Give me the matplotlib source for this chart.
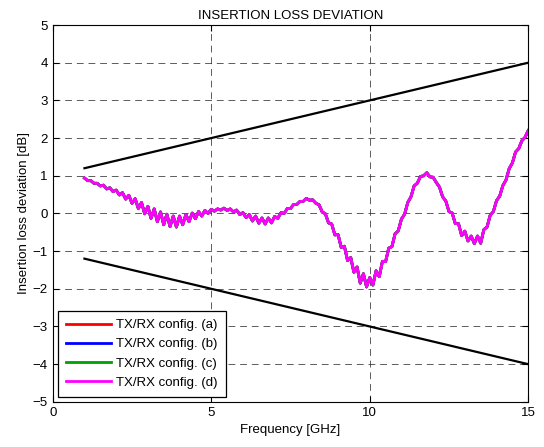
import matplotlib
matplotlib.use("Agg")
import matplotlib.pyplot as plt

plt.rcParams['font.family'] = ['Liberation Sans', 'DejaVu Sans']

# limit lines (upper / lower mask)
limit_freq = [1.0, 15.0]
limit_upper = [1.2, 4.0]
limit_lower = [-1.2, -4.0]

freq = [1.0, 1.1, 1.2, 1.3, 1.4, 1.5, 1.6, 1.7, 1.8, 1.9,
        2.0, 2.1, 2.2, 2.3, 2.4, 2.5, 2.6, 2.7, 2.8, 2.9,
        3.0, 3.1, 3.2, 3.3, 3.4, 3.5, 3.6, 3.7, 3.8, 3.9,
        4.0, 4.1, 4.2, 4.3, 4.4, 4.5, 4.6, 4.7, 4.8, 4.9,
        5.0, 5.1, 5.2, 5.3, 5.4, 5.5, 5.6, 5.7, 5.8, 5.9,
        6.0, 6.1, 6.2, 6.3, 6.4, 6.5, 6.6, 6.7, 6.8, 6.9,
        7.0, 7.1, 7.2, 7.3, 7.4, 7.5, 7.6, 7.7, 7.8, 7.9,
        8.0, 8.1, 8.2, 8.3, 8.4, 8.5, 8.6, 8.7, 8.8, 8.9,
        9.0, 9.1, 9.2, 9.3, 9.4, 9.5, 9.6, 9.7, 9.8, 9.9,
        10.0, 10.1, 10.2, 10.3, 10.4, 10.5, 10.6, 10.7, 10.8, 10.9,
        11.0, 11.1, 11.2, 11.3, 11.4, 11.5, 11.6, 11.7, 11.8, 11.9,
        12.0, 12.1, 12.2, 12.3, 12.4, 12.5, 12.6, 12.7, 12.8, 12.9,
        13.0, 13.1, 13.2, 13.3, 13.4, 13.5, 13.6, 13.7, 13.8, 13.9,
        14.0, 14.1, 14.2, 14.3, 14.4, 14.5, 14.6, 14.7, 14.8, 14.9,
        15.0]
ild = [0.94, 0.87, 0.87, 0.80, 0.80, 0.73, 0.75, 0.65, 0.68, 0.58,
       0.62, 0.49, 0.55, 0.38, 0.48, 0.27, 0.39, 0.13, 0.29, -0.01,
       0.19, -0.13, 0.12, -0.22, 0.04, -0.30, -0.02, -0.35, -0.07, -0.36,
       -0.07, -0.30, -0.03, -0.22, 0.01, -0.14, 0.05, -0.07, 0.08, 0.00,
       0.11, 0.06, 0.12, 0.09, 0.14, 0.08, 0.12, 0.04, 0.09, -0.03,
       0.02, -0.11, -0.03, -0.20, -0.07, -0.26, -0.12, -0.28, -0.12, -0.25,
       -0.08, -0.13, 0.02, 0.00, 0.13, 0.13, 0.24, 0.24, 0.32, 0.32,
       0.40, 0.35, 0.36, 0.27, 0.23, 0.04, -0.01, -0.25, -0.28, -0.57,
       -0.56, -0.90, -0.87, -1.25, -1.17, -1.56, -1.42, -1.85, -1.60, -1.95,
       -1.70, -1.90, -1.52, -1.68, -1.27, -1.28, -0.92, -0.88, -0.54, -0.46,
       -0.15, -0.02, 0.29, 0.44, 0.73, 0.80, 0.98, 1.00, 1.08, 0.97,
       0.96, 0.82, 0.70, 0.44, 0.33, 0.05, 0.01, -0.27, -0.27, -0.59,
       -0.47, -0.73, -0.60, -0.80, -0.60, -0.79, -0.43, -0.36, -0.05, 0.05,
       0.34, 0.46, 0.74, 0.89, 1.19, 1.34, 1.63, 1.72, 1.93, 2.02,
       2.20]

configs = ['TX/RX config. (a)', 'TX/RX config. (b)',
           'TX/RX config. (c)', 'TX/RX config. (d)']
colors = ['#ff0000', '#0000ff', '#00a000', '#ff00ff']

fig = plt.figure(figsize=(5.44, 4.47), dpi=100)
ax = fig.add_axes([0.097, 0.101, 0.874, 0.843])

lines = []
for name, c in zip(configs, colors):
    ln, = ax.plot(freq, ild, color=c, linewidth=2.0, label=name)
    lines.append(ln)
ax.plot(limit_freq, limit_upper, color='black', linewidth=1.6)
ax.plot(limit_freq, limit_lower, color='black', linewidth=1.6)

ax.set_xlim(0, 15)
ax.set_ylim(-5, 5)
ax.set_xticks([0, 5, 10, 15])
ax.set_yticks(range(-5, 6))
ax.tick_params(direction='in', top=True, right=True, labelsize=9.5, length=4)
ax.grid(True, color='#333333', linestyle=(0, (7, 5)), linewidth=0.7, alpha=0.8)
for s in ax.spines.values():
    s.set_linewidth(0.8)

ax.set_title('INSERTION LOSS DEVIATION', fontsize=9.5, pad=4)
ax.set_xlabel('Frequency [GHz]', fontsize=9.5, labelpad=4)
ax.set_ylabel('Insertion loss deviation [dB]', fontsize=9.5, labelpad=2)

leg = ax.legend(handles=lines, loc='lower left', fontsize=9.5, fancybox=False,
                framealpha=1, edgecolor='black', handlelength=3.4,
                handletextpad=0.4, borderpad=0.6,
                borderaxespad=0.4, labelspacing=0.52)
leg.get_frame().set_linewidth(0.9)

fig.savefig('out.png', dpi=100)
